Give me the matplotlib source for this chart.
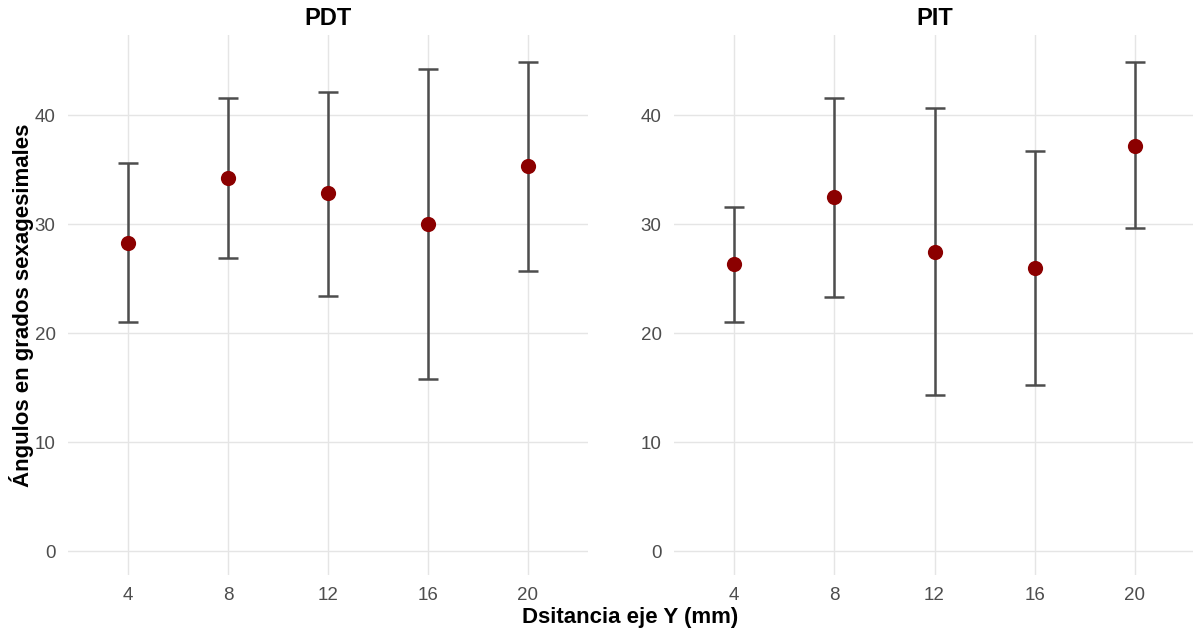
import matplotlib
matplotlib.use('Agg')
import matplotlib.pyplot as plt

# distances (mm) and summary statistics
distancias = [4, 8, 12, 16, 20]

pdt_media = [28.3, 34.2, 32.8, 30.0, 35.3]
pdt_sup = [35.6, 41.6, 42.1, 44.2, 44.9]
pdt_inf = [21.0, 26.9, 23.4, 15.8, 25.7]

pit_media = [26.3, 32.5, 27.4, 26.0, 37.2]
pit_sup = [31.6, 41.6, 40.6, 36.7, 44.9]
pit_inf = [21.0, 23.3, 14.3, 15.2, 29.6]

plt.rcParams['font.family'] = ['Liberation Sans', 'DejaVu Sans']

W, H = 1193, 632
fig = plt.figure(figsize=(W / 100, H / 100), dpi=100)
fig.patch.set_facecolor('white')


def panel(x0, x1, titulo, media, sup, inf):
    ax = fig.add_axes([x0 / W, (H - 575) / H, (x1 - x0) / W, 540 / H])
    pos = list(range(1, len(distancias) + 1))
    yerr = [[m - lo for m, lo in zip(media, inf)],
            [hi - m for m, hi in zip(media, sup)]]
    ax.errorbar(pos, media, yerr=yerr, fmt='none', ecolor='#4d4d4d',
                elinewidth=1.8, capsize=7, capthick=1.8, zorder=2)
    ax.scatter(pos, media, s=120, color='#8b0000', zorder=3, linewidths=0)
    ax.set_xlim(0.4, 5.6)
    ax.set_ylim(-2.2, 47.34)
    ax.set_xticks(pos)
    ax.set_xticklabels([str(d) for d in distancias])
    ax.set_yticks([0, 10, 20, 30, 40])
    ax.grid(True, color='#e5e5e5', linewidth=1.0)
    ax.set_axisbelow(True)
    for s in ax.spines.values():
        s.set_visible(False)
    ax.tick_params(length=0, labelsize=13.5, colors='#4d4d4d', pad=9)
    ax.set_title(titulo, fontsize=17, fontweight='bold', pad=7)
    return ax


ax1 = panel(68, 588, 'PDT', pdt_media, pdt_sup, pdt_inf)
ax2 = panel(674, 1195, 'PIT', pit_media, pit_sup, pit_inf)

fig.text(22 / W, (H - 305) / H, 'Ángulos en grados sexagesimales', rotation=90,
         fontsize=16, fontweight='bold', ha='center', va='center')
fig.text(630 / W, (H - 617) / H, 'Dsitancia eje Y (mm)', fontsize=16,
         fontweight='bold', ha='center', va='center')

fig.savefig('out.png', dpi=100, facecolor='white')
